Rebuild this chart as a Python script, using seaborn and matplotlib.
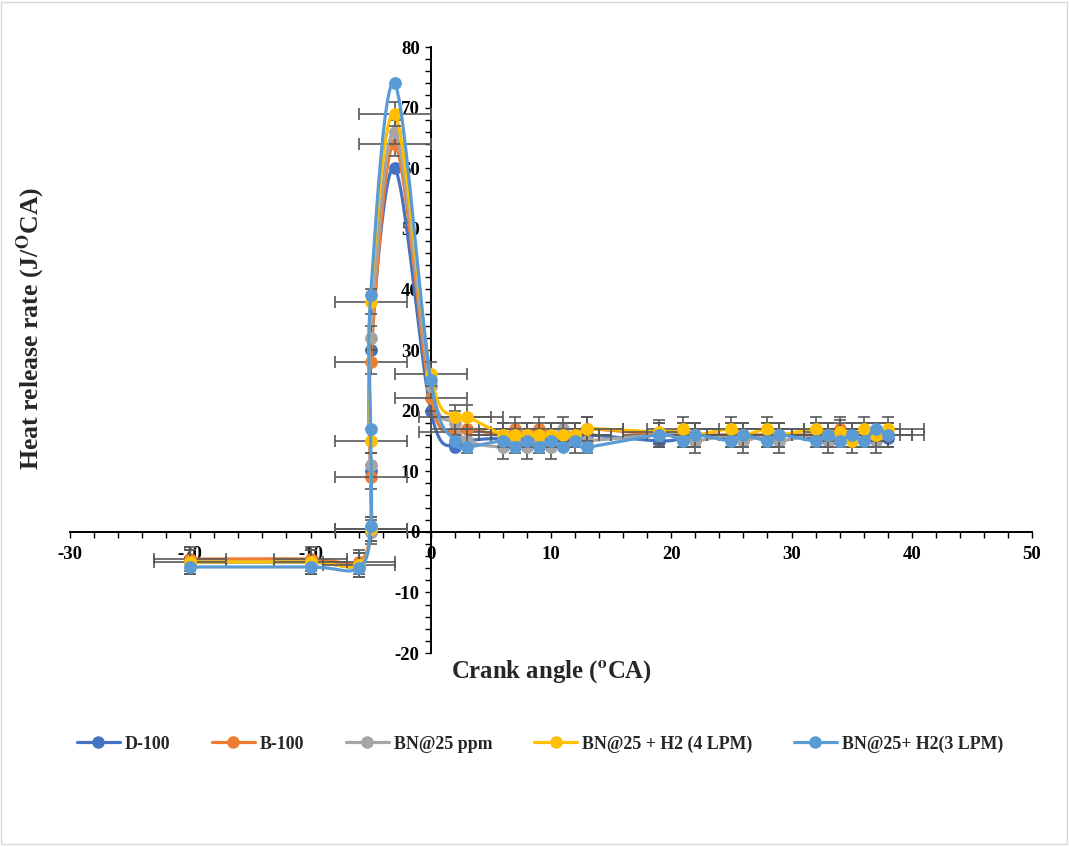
import numpy as np
import pandas as pd
import matplotlib
matplotlib.use("Agg")
import matplotlib.pyplot as plt
import seaborn as sns
from matplotlib.lines import Line2D
from matplotlib.patches import Rectangle

# Crank angle positions (deg CA) shared by every fuel
crank = [-20, -10, -6, -5, -5, -5, -3, 0, 2, 3, 6, 7, 8, 9, 10, 11, 12, 13,
         19, 21, 22, 25, 26, 28, 29, 32, 33, 34, 35, 36, 37, 38]

d100 = [-5, -5, -5.5, 0, 10, 30, 60, 20, 14, 15, 15.5, 15.5, 15.5, 15.5, 15.5, 15.5,
        15.5, 16, 15, 15.5, 16, 15.5, 16, 15.5, 16, 15.5, 16, 15.5, 16, 15.5, 16, 15.5]
b100 = [-4.5, -4.5, -5, 0.5, 9, 28, 64, 22, 16.5, 17, 16, 17, 16, 17, 16, 16,
        16, 17, 16, 16, 16, 16, 16, 16, 16, 16, 16, 17, 16, 16, 16, 16]
bn25 = [-5, -5, -5.5, 0, 11, 32, 66, 24, 18, 15, 14, 15, 14, 15, 14, 17,
        15, 15, 16, 16, 15, 16, 15, 16, 15, 16, 15, 16, 16, 16, 15, 16]
bn25_h2_4 = [-5, -5, -5.5, 0.5, 15, 38, 69, 26, 19, 19, 16, 16, 16, 16, 16, 16,
             16, 17, 16.5, 17, 16, 17, 16, 17, 16, 17, 16, 16.5, 15, 17, 16, 17]
bn25_h2_3 = [-5.8, -5.8, -6, 1, 17, 39, 74, 25, 15, 14, 15, 14, 15, 14, 15, 14,
             15, 14, 16, 15, 16, 15, 16, 15, 16, 15, 16, 15, 16, 15, 17, 16]

series_names = ["D-100", "B-100", "BN@25 ppm", "BN@25 + H2 (4 LPM)", "BN@25+ H2(3 LPM)"]
series_values = [d100, b100, bn25, bn25_h2_4, bn25_h2_3]
series_colors = ["#4472C4", "#ED7D31", "#A5A5A5", "#FFC000", "#5B9BD5"]
# error magnitudes (crank angle, heat release) per fuel
x_err = [0, 3, 0, 3, 0]
y_err = [0, 2, 2, 2, 0]

x_ticks = [-30, -20, -10, 0, 10, 20, 30, 40, 50]
y_ticks = [-20, -10, 0, 10, 20, 30, 40, 50, 60, 70, 80]

sns.set_theme(style="white")
plt.rcParams["font.family"] = ["Liberation Serif", "DejaVu Serif"]
plt.rcParams["font.weight"] = "bold"
plt.rcParams["mathtext.fontset"] = "stix"
plt.rcParams["axes.unicode_minus"] = False


def smooth_curve(x, y, sx, sy, n=24):
    """Bezier smoothing in screen proportions, like a spreadsheet 'smoothed line'."""
    P = np.column_stack([np.asarray(x, float) * sx, np.asarray(y, float) * sy])
    pts = []
    t = np.linspace(0, 1, n)[:, None]
    for i in range(len(P) - 1):
        p0 = P[i - 1] if i > 0 else P[i]
        p1, p2 = P[i], P[i + 1]
        p3 = P[i + 2] if i + 2 < len(P) else P[i + 1]
        c1 = p1 + (p2 - p0) / 6.0
        c2 = p2 - (p3 - p1) / 6.0
        seg = ((1 - t) ** 3) * p1 + 3 * ((1 - t) ** 2) * t * c1 + 3 * (1 - t) * t ** 2 * c2 + t ** 3 * p2
        pts.append(seg if i == 0 else seg[1:])
    pts = np.vstack(pts)
    return pts[:, 0] / sx, pts[:, 1] / sy


fig = plt.figure(figsize=(10.69, 8.47), dpi=100)
ax = fig.add_axes([70 / 1069, 1 - 653 / 847, (1032 - 70) / 1069, (653 - 47) / 847])
ax.set_xlim(-30, 50)
ax.set_ylim(-20, 80)

# pixels per data unit, used to smooth in screen space
sx = 962 / 80.0
sy = 606 / 100.0

for k, (name, vals, col) in enumerate(zip(series_names, series_values, series_colors)):
    cx, cy = smooth_curve(crank, vals, sx, sy)
    curve = pd.DataFrame({"crank": cx, "hrr": cy})
    pts = pd.DataFrame({"crank": crank, "hrr": vals})
    z = 3 + k * 3
    sns.lineplot(data=curve, x="crank", y="hrr", sort=False, estimator=None,
                 color=col, linewidth=2.3, ax=ax, zorder=z)
    if x_err[k] or y_err[k]:
        ax.errorbar(crank, vals,
                    xerr=x_err[k] if x_err[k] else None,
                    yerr=y_err[k] if y_err[k] else None,
                    fmt="none", ecolor="#595959", elinewidth=1.2,
                    capsize=4, capthick=1.2, zorder=z + 1)
    sns.scatterplot(data=pts, x="crank", y="hrr", color=col, s=85,
                    edgecolor=col, linewidth=0, ax=ax, zorder=z + 2)

# spreadsheet-style axes crossing at the origin
for side in ["top", "right"]:
    ax.spines[side].set_visible(False)
ax.spines["left"].set_position(("data", 0))
ax.spines["bottom"].set_position(("data", 0))
for side in ["left", "bottom"]:
    ax.spines[side].set_color("black")
    ax.spines[side].set_linewidth(1.4)

ax.set_xticks(x_ticks)
ax.set_yticks(y_ticks)
ax.set_xticks(np.arange(-30, 51, 2), minor=True)
ax.set_yticks(np.arange(-20, 81, 2), minor=True)
ax.tick_params(axis="both", which="both", direction="out", color="black",
               width=1.0, length=4, labelsize=13.5, labelcolor="black")
ax.tick_params(axis="x", which="major", pad=6)
ax.tick_params(axis="y", which="major", pad=4)
ax.tick_params(bottom=True, left=True, which="both")
for lab in ax.get_xticklabels() + ax.get_yticklabels():
    lab.set_fontweight("bold")
ax.set_xlabel("")
ax.set_ylabel("")
ax.grid(False)

fig.text(31 / 1069, 1 - 328 / 847, r"Heat release rate (J/$^{\mathbf{O}}$CA)",
         rotation=90, ha="center", va="center", fontsize=18.5, fontweight="bold")
fig.text(551 / 1069, 1 - 672 / 847, r"Crank angle ($^{\mathbf{o}}$CA)",
         ha="center", va="center", fontsize=17.8, fontweight="bold")

handles = [Line2D([0], [0], color=c, linewidth=2.3, marker="o", markersize=9,
                  markeredgewidth=0) for c in series_colors]
fig.legend(handles, series_names, loc="center", bbox_to_anchor=(540 / 1069, 1 - 744 / 847),
           ncol=5, frameon=False, handlelength=2.4, columnspacing=2.3,
           handletextpad=0.3, prop={"weight": "bold", "size": 12.9})

fig.patches.append(Rectangle((0.001, 0.003), 0.997, 0.995, transform=fig.transFigure,
                             fill=False, edgecolor="#D9D9D9", linewidth=1.0))

fig.savefig("out.png", dpi=100, facecolor="white")
